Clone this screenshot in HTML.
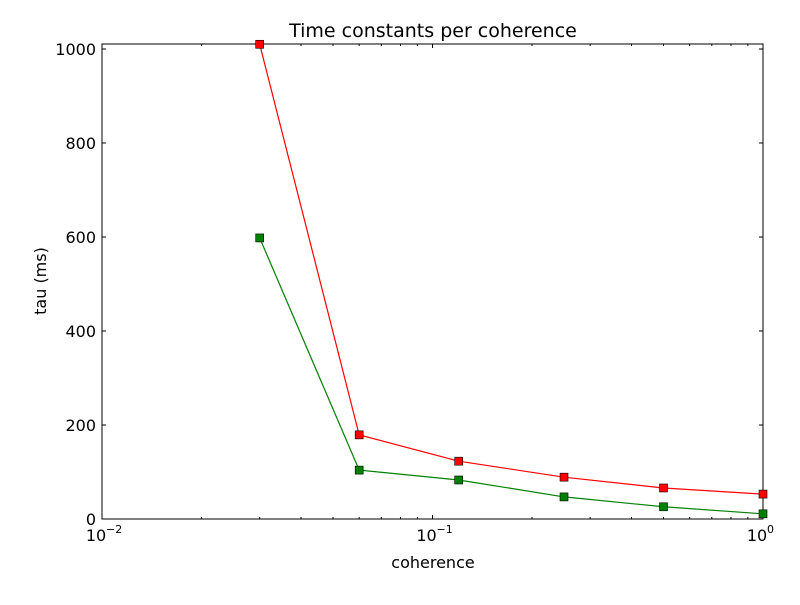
<!DOCTYPE html>
<html><head><meta charset="utf-8"><style>
body{margin:0;background:#fff;font-family:"Liberation Sans","DejaVu Sans",sans-serif}
svg text{font-family:"DejaVu Sans","Liberation Sans",sans-serif}
</style></head><body>
<svg id="chart" width="800" height="600">
<rect width="800" height="600" fill="#fff"/>
<g id="plot"></g>
</svg>
<script>
const coherence=[0.03,0.06,0.12,0.25,0.5,1.0];
const tauRed=[1010,179,123,89,66,53];
const tauGreen=[598,104,83,47,26,11];
const yTicks=[0,200,400,600,800,1000];
const xTicks=[0.01,0.1,1];
const xTickLabels=['10','10','10'];
const xTickExp=['−2','−1','0'];

const L=102,R=763,T=44,B=519,YMAX=1010.6;
const NS='http://www.w3.org/2000/svg';
const g=document.getElementById('plot');
function xs(v){return L+(Math.log10(v)+2)/2*(R-L);}
function ys(v){return B-v/YMAX*(B-T);}
function el(t,a,p){const e=document.createElementNS(NS,t);for(const k in a)e.setAttribute(k,a[k]);(p||g).appendChild(e);return e;}

const frame=el('rect',{x:L,y:T,width:R-L,height:B-T,fill:'none',stroke:'#000','stroke-width':1});



yTicks.forEach(v=>{const y=ys(v);
 el('line',{x1:L,x2:L+4,y1:y,y2:y,stroke:'#000'});
 el('line',{x1:R,x2:R-4,y1:y,y2:y,stroke:'#000'});
 const t=el('text',{x:L-6,y:y+6,'text-anchor':'end','font-size':16});t.textContent=v;
 
 
});
for(let d=-2;d<0;d++)for(let m=2;m<=9;m++){const x=xs(m*Math.pow(10,d));
 el('line',{x1:x,x2:x,y1:B,y2:B-2,stroke:'#000'});el('line',{x1:x,x2:x,y1:T,y2:T+2,stroke:'#000'});}
xTicks.forEach((v,i)=>{const x=xs(v);
 el('line',{x1:x,x2:x,y1:B,y2:B-4,stroke:'#000'});el('line',{x1:x,x2:x,y1:T,y2:T+4,stroke:'#000'});
 const t=el('text',{x:x-6,y:B+22,'text-anchor':'middle','font-size':16});t.textContent=xTickLabels[i];
 
 
 const s=el('text',{x:x+4,y:B+14,'text-anchor':'start','font-size':11});s.textContent=xTickExp[i];
});

function series(vals,color,name){
 const pts=coherence.map((c,i)=>xs(c)+','+ys(vals[i])).join(' ');
 const pl=el('polyline',{points:pts,fill:'none',stroke:color,'stroke-width':1.2});
 
 
 coherence.forEach((c,i)=>{
  const r=el('rect',{x:xs(c)-4,y:ys(vals[i])-4,width:8,height:8,fill:color,stroke:'#000','stroke-width':0.6});
  
  
 });
}
series(tauGreen,'#008000','green-series');
series(tauRed,'#ff0000','red-series');

let t=el('text',{x:433,y:37,'text-anchor':'middle','font-size':19});t.textContent='Time constants per coherence';

t=el('text',{x:433,y:568,'text-anchor':'middle','font-size':16});t.textContent='coherence';

t=el('text',{x:46,y:281,'text-anchor':'middle','font-size':16,transform:'rotate(-90 46 281)'});t.textContent='tau (ms)';

</script>
</body></html>
